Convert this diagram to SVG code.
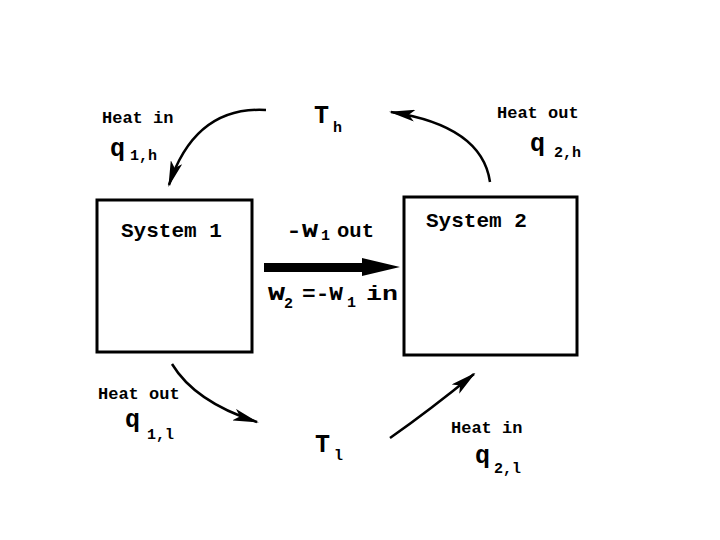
<svg xmlns="http://www.w3.org/2000/svg" width="720" height="540" viewBox="0 0 720 540">
<style>
text{font-family:"Liberation Mono","Courier New",monospace;font-weight:bold;fill:#000}
.sys{font-size:21px}
.lbl{font-size:17px}
.big{font-size:25px}
.sub{font-size:15px}
.mid{font-size:20px}
.box{fill:#fff;stroke:#000;stroke-width:3}
.arc{fill:none;stroke:#000;stroke-width:2.5}
</style>
<defs>
<marker id="ah" viewBox="0 0 26 12" refX="24" refY="6" markerWidth="26" markerHeight="12" markerUnits="userSpaceOnUse" orient="auto">
<path d="M0,0 L26,6 L0,12 L6,6 Z" fill="#000"/>
</marker>
</defs>
<rect width="720" height="540" fill="#fff"/>
<g id="system1">
<rect class="box" x="97" y="200" width="155" height="152"/>
<text class="sys" x="121" y="237">System 1</text>
</g>
<g id="system2">
<rect class="box" x="404" y="197" width="173" height="158"/>
<text class="sys" x="426" y="227">System 2</text>
</g>
<g id="Th">
<text class="big" x="314" y="123">T</text>
<text class="sub" x="333" y="132">h</text>
</g>
<g id="Tl">
<text class="big" x="315" y="452">T</text>
<text class="sub" x="334" y="460">l</text>
</g>
<g id="connectors">
<path class="arc" d="M266,110 Q195,106 169,185" marker-end="url(#ah)"/>
<path class="arc" d="M490,182 Q482,126 391,112" marker-end="url(#ah)"/>
<path class="arc" d="M172,364 Q195,402 257,422" marker-end="url(#ah)"/>
<path class="arc" d="M390,438 Q430,410 474,374" marker-end="url(#ah)"/>
<path d="M264,263 H362 V258 L400,267 L362,276 V272 H264 Z" fill="#000"/>
</g>
<g id="labels">
<text class="lbl" x="102" y="123">Heat in</text>
<text class="big" x="110" y="156">q</text><text class="sub" x="130" y="160">1,h</text>
<text class="lbl" x="497" y="118">Heat out</text>
<text class="big" x="530" y="151">q</text><text class="sub" x="554" y="157">2,h</text>
<text class="mid" x="286" y="237" textLength="32" lengthAdjust="spacingAndGlyphs">-W</text>
<text class="sub" x="321" y="240">1</text>
<text class="mid" x="337" y="237" textLength="37" lengthAdjust="spacingAndGlyphs">out</text>
<text class="mid" x="268" y="300" textLength="17" lengthAdjust="spacingAndGlyphs">W</text>
<text class="sub" x="284" y="308">2</text>
<text class="mid" x="302" y="300" textLength="41" lengthAdjust="spacingAndGlyphs">=-W</text>
<text class="sub" x="347" y="307">1</text>
<text class="mid" x="366" y="300" textLength="32" lengthAdjust="spacingAndGlyphs">in</text>
<text class="lbl" x="98" y="399">Heat out</text>
<text class="big" x="125" y="427">q</text><text class="sub" x="147" y="439">1,l</text>
<text class="lbl" x="451" y="433">Heat in</text>
<text class="big" x="475" y="463">q</text><text class="sub" x="494" y="473">2,l</text>
</g>
</svg>
